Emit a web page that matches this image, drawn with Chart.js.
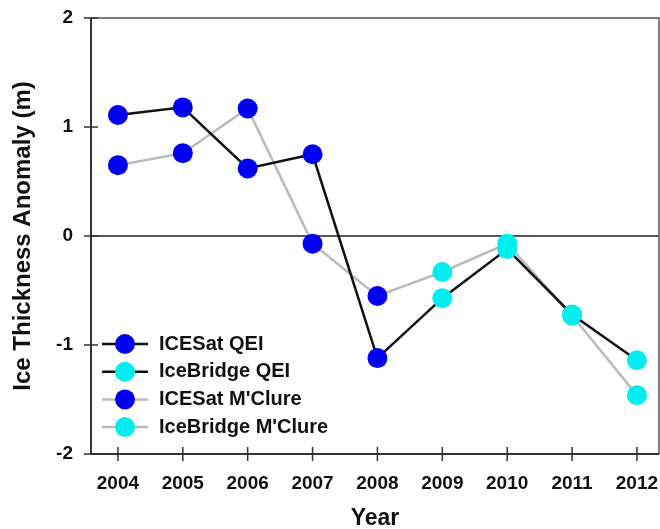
<!DOCTYPE html>
<html>
<head>
<meta charset="utf-8">
<script src="https://cdn.jsdelivr.net/npm/chart.js@4/dist/chart.umd.min.js"></script>
<style>
  html, body { margin: 0; padding: 0; background: #fff; }
  #wrap { width: 660px; height: 529px; position: relative; }
</style>
</head>
<body>
<div id="wrap"><canvas id="iceChart"></canvas></div>
<script>
// --- data ---
const years = [2004, 2005, 2006, 2007, 2008, 2009, 2010, 2011, 2012];
const icesatQEI       = [1.11, 1.18, 0.62, 0.75, -1.12, null, null, null, null];
const icebridgeQEI    = [null, null, null, null, null, -0.57, -0.12, -0.72, -1.14];
const icesatMClure    = [0.65, 0.76, 1.17, -0.07, -0.55, null, null, null, null];
const icebridgeMClure = [null, null, null, null, null, -0.33, -0.07, -0.73, -1.46];
const yTicks = [-2, -1, 0, 1, 2];

const BLUE = '#0000ee';
const CYAN = '#00eeee';
const FONT = "'Liberation Sans', Arial, sans-serif";

// build {x,y} points; 'bridge' adds the previous instrument's last point so the line joins up
function toPoints(values, bridge) {
    const pts = [];
    years.forEach((yr, i) => {
        if (values[i] != null) {
            pts.push({ x: yr, y: values[i] });
        } else if (bridge && bridge[i] != null && values[i + 1] != null) {
            pts.push({ x: yr, y: bridge[i], link: true });
        }
    });
    return pts;
}

const makeSet = (label, pts, line, fill) => ({
    label: label,
    data: pts,
    borderColor: line,
    borderWidth: 2.5,
    pointBackgroundColor: fill,
    pointBorderWidth: 0,
    pointRadius: (ctx) => (ctx.raw && ctx.raw.link ? 0 : 10),
    pointHoverRadius: (ctx) => (ctx.raw && ctx.raw.link ? 0 : 10),
    tension: 0,
    fill: false
});

// axes frame, zero line and ticks that cross the axis
const framePlugin = {
    id: 'frame',
    beforeDatasetsDraw(chart) {
        const { ctx, chartArea: a, scales } = chart;
        ctx.save();
        ctx.strokeStyle = '#555';
        ctx.lineWidth = 1.5;
        ctx.beginPath();
        ctx.moveTo(a.left, a.top); ctx.lineTo(a.right, a.top); ctx.lineTo(a.right, a.bottom);
        ctx.stroke();

        const y0 = scales.y.getPixelForValue(0);
        ctx.strokeStyle = '#555';
        ctx.lineWidth = 2;
        ctx.beginPath();
        ctx.moveTo(a.left, y0); ctx.lineTo(a.right, y0);
        ctx.stroke();

        ctx.strokeStyle = '#333';
        ctx.lineWidth = 2;
        ctx.beginPath();
        ctx.moveTo(a.left, a.top); ctx.lineTo(a.left, a.bottom); ctx.lineTo(a.right, a.bottom);
        ctx.stroke();

        ctx.lineWidth = 1.5;
        ctx.beginPath();
        yTicks.forEach(v => {
            const p = scales.y.getPixelForValue(v);
            ctx.moveTo(a.left - 7, p); ctx.lineTo(a.left + 7, p);
        });
        years.forEach(v => {
            const p = scales.x.getPixelForValue(v);
            ctx.moveTo(p, a.bottom - 7); ctx.lineTo(p, a.bottom + 7);
        });
        ctx.stroke();
        ctx.restore();
    }
};

// legend drawn inside the plot, lower left
const legendPlugin = {
    id: 'insideLegend',
    afterDatasetsDraw(chart) {
        const { ctx, chartArea: a } = chart;
        ctx.save();
        chart.data.datasets.forEach((ds, i) => {
            const y = a.bottom - 110 + i * 27.7;
            const x0 = a.left + 11, x1 = a.left + 57, cx = a.left + 34;
            ctx.strokeStyle = ds.borderColor;
            ctx.lineWidth = 2.5;
            ctx.beginPath(); ctx.moveTo(x0, y); ctx.lineTo(x1, y); ctx.stroke();
            ctx.fillStyle = ds.pointBackgroundColor;
            ctx.beginPath(); ctx.arc(cx, y, 10, 0, Math.PI * 2); ctx.fill();
            ctx.fillStyle = '#111';
            ctx.font = 'bold 20px ' + FONT;
            ctx.textBaseline = 'middle';
            ctx.textAlign = 'left';
            ctx.fillText(ds.label, a.left + 68, y);
        });
        ctx.restore();
    }
};

const initChart = () => {
    const canvas = document.getElementById('iceChart');
    new Chart(canvas, {
        type: 'line',
        data: {
            datasets: [
                makeSet('ICESat QEI', toPoints(icesatQEI), '#111', BLUE),
                makeSet('IceBridge QEI', toPoints(icebridgeQEI, icesatQEI), '#111', CYAN),
                makeSet("ICESat M'Clure", toPoints(icesatMClure), '#bbb', BLUE),
                makeSet("IceBridge M'Clure", toPoints(icebridgeMClure, icesatMClure), '#bbb', CYAN)
            ]
        },
        options: {
            responsive: true,
            maintainAspectRatio: false,
            animation: false,
            layout: { autoPadding: false, padding: { top: 18, right: 1, left: 0, bottom: 0 } },
            plugins: { legend: { display: false }, tooltip: { enabled: false } },
            scales: {
                x: {
                    type: 'linear',
                    min: 2003.585,
                    max: 2012.34,
                    afterBuildTicks: (s) => { s.ticks = years.map(v => ({ value: v })); },
                    afterFit: (s) => { s.height = 75; s.paddingLeft = 0; s.paddingRight = 0; },
                    grid: { display: false, drawTicks: false },
                    border: { display: false },
                    ticks: {
                        padding: 18,
                        color: '#111',
                        font: { family: FONT, size: 19, weight: 'bold' },
                        callback: (v) => String(v)
                    },
                    title: {
                        display: true,
                        text: 'Year',
                        color: '#111',
                        font: { family: FONT, size: 23, weight: 'bold', lineHeight: 0.8 },
                        padding: { top: 0, bottom: 1 }
                    }
                },
                y: {
                    min: -2,
                    max: 2,
                    afterBuildTicks: (s) => { s.ticks = yTicks.map(v => ({ value: v })); },
                    afterFit: (s) => { s.width = 91; s.paddingTop = 0; s.paddingBottom = 0; },
                    grid: { display: false, drawTicks: false },
                    border: { display: false },
                    ticks: {
                        padding: 18,
                        color: '#111',
                        font: { family: FONT, size: 19, weight: 'bold' },
                        callback: (v) => String(v)
                    },
                    title: {
                        display: true,
                        text: 'Ice Thickness Anomaly (m)',
                        color: '#111',
                        font: { family: FONT, size: 24, weight: 'bold', lineHeight: 1 },
                        padding: { top: 11, bottom: 0 }
                    }
                }
            }
        },
        plugins: [framePlugin, legendPlugin]
    });
};

if (document.readyState === 'loading') {
    document.addEventListener('DOMContentLoaded', initChart);
} else {
    initChart();
}
</script>
</body>
</html>
